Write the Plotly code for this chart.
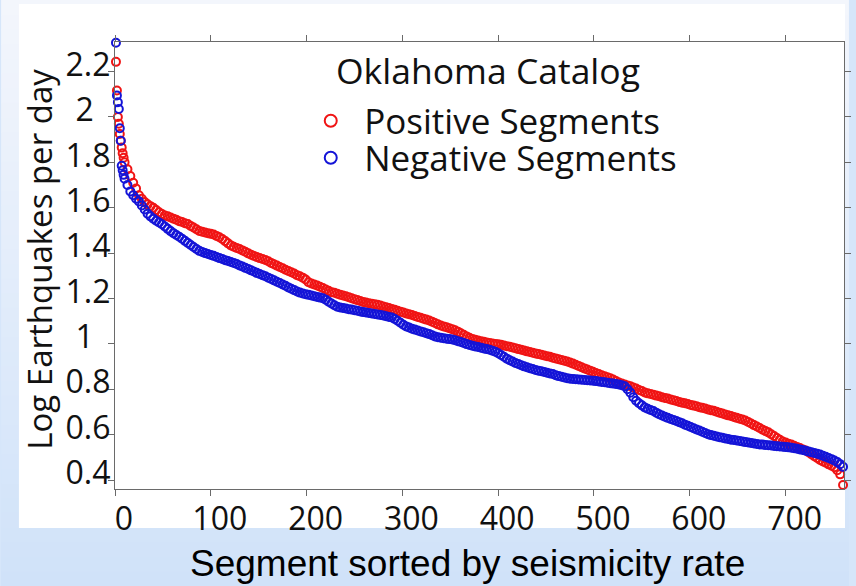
import plotly.graph_objects as go

# Segment rank (1 = highest seismicity rate); ranks 1-10 individually, then every third rank
rank = list(range(1, 11)) + list(range(13, 761, 3))

# log10 earthquakes per day, positive segments
positive_log_rate = [
    2.243, 2.117, 2.000, 1.970, 1.925, 1.895, 1.865, 1.840, 1.820, 1.800,
    1.770, 1.740, 1.710, 1.685, 1.655, 1.640, 1.625, 1.615, 1.607, 1.600,
    1.590, 1.580, 1.572, 1.566, 1.562, 1.557, 1.552, 1.547, 1.541, 1.537,
    1.532, 1.528, 1.520, 1.513, 1.505, 1.498, 1.494, 1.491, 1.488, 1.485,
    1.482, 1.476, 1.470, 1.462, 1.453, 1.443, 1.434, 1.428, 1.423, 1.418,
    1.412, 1.406, 1.399, 1.393, 1.388, 1.383, 1.378, 1.374, 1.370, 1.364,
    1.357, 1.351, 1.345, 1.339, 1.333, 1.327, 1.321, 1.316, 1.310, 1.303,
    1.298, 1.292, 1.284, 1.272, 1.266, 1.262, 1.257, 1.252, 1.246, 1.240,
    1.234, 1.228, 1.225, 1.221, 1.217, 1.213, 1.210, 1.206, 1.201, 1.197,
    1.193, 1.189, 1.185, 1.182, 1.179, 1.177, 1.175, 1.172, 1.169, 1.165,
    1.161, 1.158, 1.154, 1.150, 1.146, 1.142, 1.138, 1.134, 1.131, 1.127,
    1.123, 1.119, 1.115, 1.111, 1.107, 1.103, 1.098, 1.092, 1.086, 1.081,
    1.077, 1.073, 1.069, 1.065, 1.060, 1.054, 1.047, 1.040, 1.033, 1.027,
    1.022, 1.018, 1.015, 1.012, 1.009, 1.006, 1.004, 1.002, 1.000, 0.998,
    0.996, 0.993, 0.990, 0.987, 0.984, 0.981, 0.977, 0.974, 0.971, 0.967,
    0.964, 0.961, 0.958, 0.955, 0.952, 0.949, 0.946, 0.943, 0.939, 0.936,
    0.932, 0.929, 0.926, 0.922, 0.918, 0.913, 0.908, 0.903, 0.897, 0.892,
    0.887, 0.882, 0.877, 0.872, 0.867, 0.862, 0.857, 0.853, 0.848, 0.843,
    0.836, 0.830, 0.825, 0.821, 0.817, 0.813, 0.808, 0.803, 0.797, 0.792,
    0.786, 0.782, 0.779, 0.776, 0.772, 0.769, 0.765, 0.762, 0.759, 0.755,
    0.752, 0.748, 0.744, 0.741, 0.738, 0.735, 0.731, 0.728, 0.725, 0.721,
    0.718, 0.715, 0.711, 0.708, 0.705, 0.701, 0.697, 0.693, 0.689, 0.685,
    0.682, 0.678, 0.674, 0.670, 0.667, 0.662, 0.656, 0.649, 0.642, 0.636,
    0.629, 0.622, 0.616, 0.610, 0.602, 0.594, 0.585, 0.577, 0.570, 0.565,
    0.560, 0.556, 0.551, 0.546, 0.541, 0.535, 0.530, 0.522, 0.514, 0.505,
    0.497, 0.488, 0.482, 0.476, 0.469, 0.463, 0.456, 0.443, 0.425, 0.378,
]

# log10 earthquakes per day, negative segments
negative_log_rate = [
    2.327, 2.095, 2.065, 2.035, 1.950, 1.895, 1.785, 1.765, 1.745, 1.728,
    1.700, 1.672, 1.655, 1.640, 1.628, 1.610, 1.592, 1.574, 1.562, 1.552,
    1.543, 1.535, 1.527, 1.517, 1.507, 1.497, 1.488, 1.480, 1.472, 1.463,
    1.454, 1.445, 1.436, 1.427, 1.418, 1.410, 1.405, 1.400, 1.396, 1.392,
    1.388, 1.383, 1.378, 1.374, 1.369, 1.365, 1.361, 1.357, 1.352, 1.346,
    1.341, 1.335, 1.330, 1.324, 1.319, 1.313, 1.308, 1.303, 1.298, 1.292,
    1.286, 1.280, 1.274, 1.268, 1.262, 1.256, 1.249, 1.243, 1.237, 1.231,
    1.226, 1.222, 1.219, 1.216, 1.213, 1.210, 1.207, 1.204, 1.201, 1.195,
    1.186, 1.178, 1.170, 1.164, 1.160, 1.158, 1.156, 1.153, 1.151, 1.148,
    1.146, 1.143, 1.140, 1.138, 1.136, 1.134, 1.132, 1.130, 1.127, 1.125,
    1.122, 1.119, 1.116, 1.110, 1.102, 1.093, 1.084, 1.077, 1.072, 1.067,
    1.063, 1.059, 1.055, 1.051, 1.047, 1.043, 1.038, 1.033, 1.029, 1.027,
    1.025, 1.023, 1.021, 1.019, 1.016, 1.012, 1.008, 1.004, 0.999, 0.995,
    0.992, 0.989, 0.986, 0.983, 0.980, 0.977, 0.974, 0.970, 0.965, 0.959,
    0.951, 0.943, 0.935, 0.928, 0.922, 0.916, 0.911, 0.906, 0.901, 0.897,
    0.893, 0.889, 0.885, 0.882, 0.879, 0.876, 0.873, 0.870, 0.867, 0.862,
    0.858, 0.855, 0.852, 0.849, 0.846, 0.845, 0.844, 0.843, 0.842, 0.841,
    0.840, 0.839, 0.838, 0.836, 0.834, 0.832, 0.831, 0.829, 0.827, 0.825,
    0.823, 0.821, 0.818, 0.813, 0.800, 0.785, 0.765, 0.749, 0.738, 0.729,
    0.720, 0.714, 0.709, 0.704, 0.697, 0.690, 0.684, 0.679, 0.674, 0.669,
    0.665, 0.660, 0.655, 0.650, 0.644, 0.639, 0.634, 0.628, 0.623, 0.618,
    0.613, 0.607, 0.602, 0.598, 0.595, 0.592, 0.589, 0.586, 0.583, 0.581,
    0.578, 0.576, 0.574, 0.572, 0.570, 0.567, 0.565, 0.563, 0.561, 0.559,
    0.557, 0.556, 0.554, 0.553, 0.552, 0.550, 0.549, 0.548, 0.547, 0.545,
    0.544, 0.542, 0.540, 0.538, 0.535, 0.532, 0.529, 0.526, 0.522, 0.519,
    0.516, 0.512, 0.507, 0.502, 0.497, 0.492, 0.486, 0.479, 0.470, 0.458,
]

assert len(rank) == len(positive_log_rate) == len(negative_log_rate)

x_tick_values = [0, 100, 200, 300, 400, 500, 600, 700]
y_tick_values = [0.4, 0.6, 0.8, 1.0, 1.2, 1.4, 1.6, 1.8, 2.0, 2.2]
y_tick_labels = ["0.4", "0.6", "0.8", "1\u00a0\u00a0", "1.2", "1.4", "1.6", "1.8", "2\u00a0\u00a0", "2.2"]

RED = "rgb(240,20,20)"
BLUE = "rgb(20,20,215)"
AXIS = "#6a6a6a"
SANS = "Open Sans"

W, H = 856, 586
ML, MR, MT, MB = 115, 5, 42, 97
PW, PH = W - ML - MR, H - MT - MB


def px_x(p):
    """page pixel column -> paper x"""
    return (p - ML) / PW


def px_y(p):
    """page pixel row -> paper y"""
    return (H - MB - p) / PH


fig = go.Figure()
fig.add_trace(go.Scatter(
    x=rank, y=positive_log_rate, mode="markers", name="Positive Segments",
    marker=dict(symbol="circle-open", size=8, color=RED, line=dict(width=2)),
    cliponaxis=False, legend="legend",
))
fig.add_trace(go.Scatter(
    x=rank, y=negative_log_rate, mode="markers", name="Negative Segments",
    marker=dict(symbol="circle-open", size=8, color=BLUE, line=dict(width=2)),
    cliponaxis=False, legend="legend2",
))

# soft vertical gradient behind the white figure panel
shapes = []
top_rgb, bottom_rgb = (243, 246, 252), (208, 226, 249)
n_bands = 40
for i in range(n_bands):
    t = i / (n_bands - 1)
    c = tuple(round(a + (b - a) * t) for a, b in zip(top_rgb, bottom_rgb))
    y_top = H * i / n_bands
    y_bot = H * (i + 1) / n_bands + 1
    shapes.append(dict(
        type="rect", xref="paper", yref="paper", layer="below",
        x0=px_x(0), x1=px_x(W), y0=px_y(y_bot), y1=px_y(y_top),
        fillcolor="rgb(%d,%d,%d)" % c, line=dict(width=0),
    ))
shapes.append(dict(
    type="rect", xref="paper", yref="paper", layer="below",
    x0=px_x(18), x1=px_x(852), y0=px_y(528), y1=px_y(4),
    fillcolor="white", line=dict(width=0),
))

legend_common = dict(
    xanchor="left", yanchor="middle", bgcolor="rgba(0,0,0,0)",
    font=dict(family=SANS, size=35, color="#111"), itemsizing="constant",
    itemwidth=57, borderwidth=0,
)

fig.update_layout(
    width=W, height=H,
    margin=dict(l=ML, r=MR, t=MT, b=MB, pad=0),
    paper_bgcolor="rgb(214,230,250)",
    plot_bgcolor="white",
    showlegend=True,
    legend=dict(x=px_x(299), y=px_y(121), **legend_common),
    legend2=dict(x=px_x(299), y=px_y(158), **legend_common),
    shapes=shapes,
    xaxis=dict(
        range=[0, 761], tickvals=x_tick_values, ticks="outside", ticklen=6,
        tickcolor=AXIS, showline=True, linecolor=AXIS, linewidth=1.2, mirror="ticks",
        showgrid=False, zeroline=False, ticklabelshift=9, ticklabelstandoff=-5,
        tickfont=dict(family=SANS, size=32, color="#111"),
    ),
    yaxis=dict(
        range=[0.3604, 2.3305], tickvals=y_tick_values, ticktext=y_tick_labels,
        ticks="outside", ticklen=6, tickcolor=AXIS, showline=True, linecolor=AXIS,
        linewidth=1.2, mirror="ticks", showgrid=False, zeroline=False,
        ticklabelshift=-7, ticklabelstandoff=-9,
        tickfont=dict(family=SANS, size=32, color="#111"),
    ),
    annotations=[
        dict(text="Oklahoma Catalog", xref="paper", yref="paper",
             x=px_x(492), y=px_y(70), xanchor="center", yanchor="middle",
             showarrow=False, font=dict(family=SANS, size=35.5, color="#111")),
        dict(text="Log Earthquakes per day", xref="paper", yref="paper",
             x=px_x(38), y=px_y(259), xanchor="center", yanchor="middle",
             textangle=-90, showarrow=False,
             font=dict(family=SANS, size=33, color="#111")),
        dict(text="Segment sorted by seismicity rate", xref="paper", yref="paper",
             x=px_x(471), y=px_y(563), xanchor="center", yanchor="middle",
             showarrow=False,
             font=dict(family="Liberation Sans, Arial", size=37, color="#000")),
    ],
)

fig.write_html("out.html")
